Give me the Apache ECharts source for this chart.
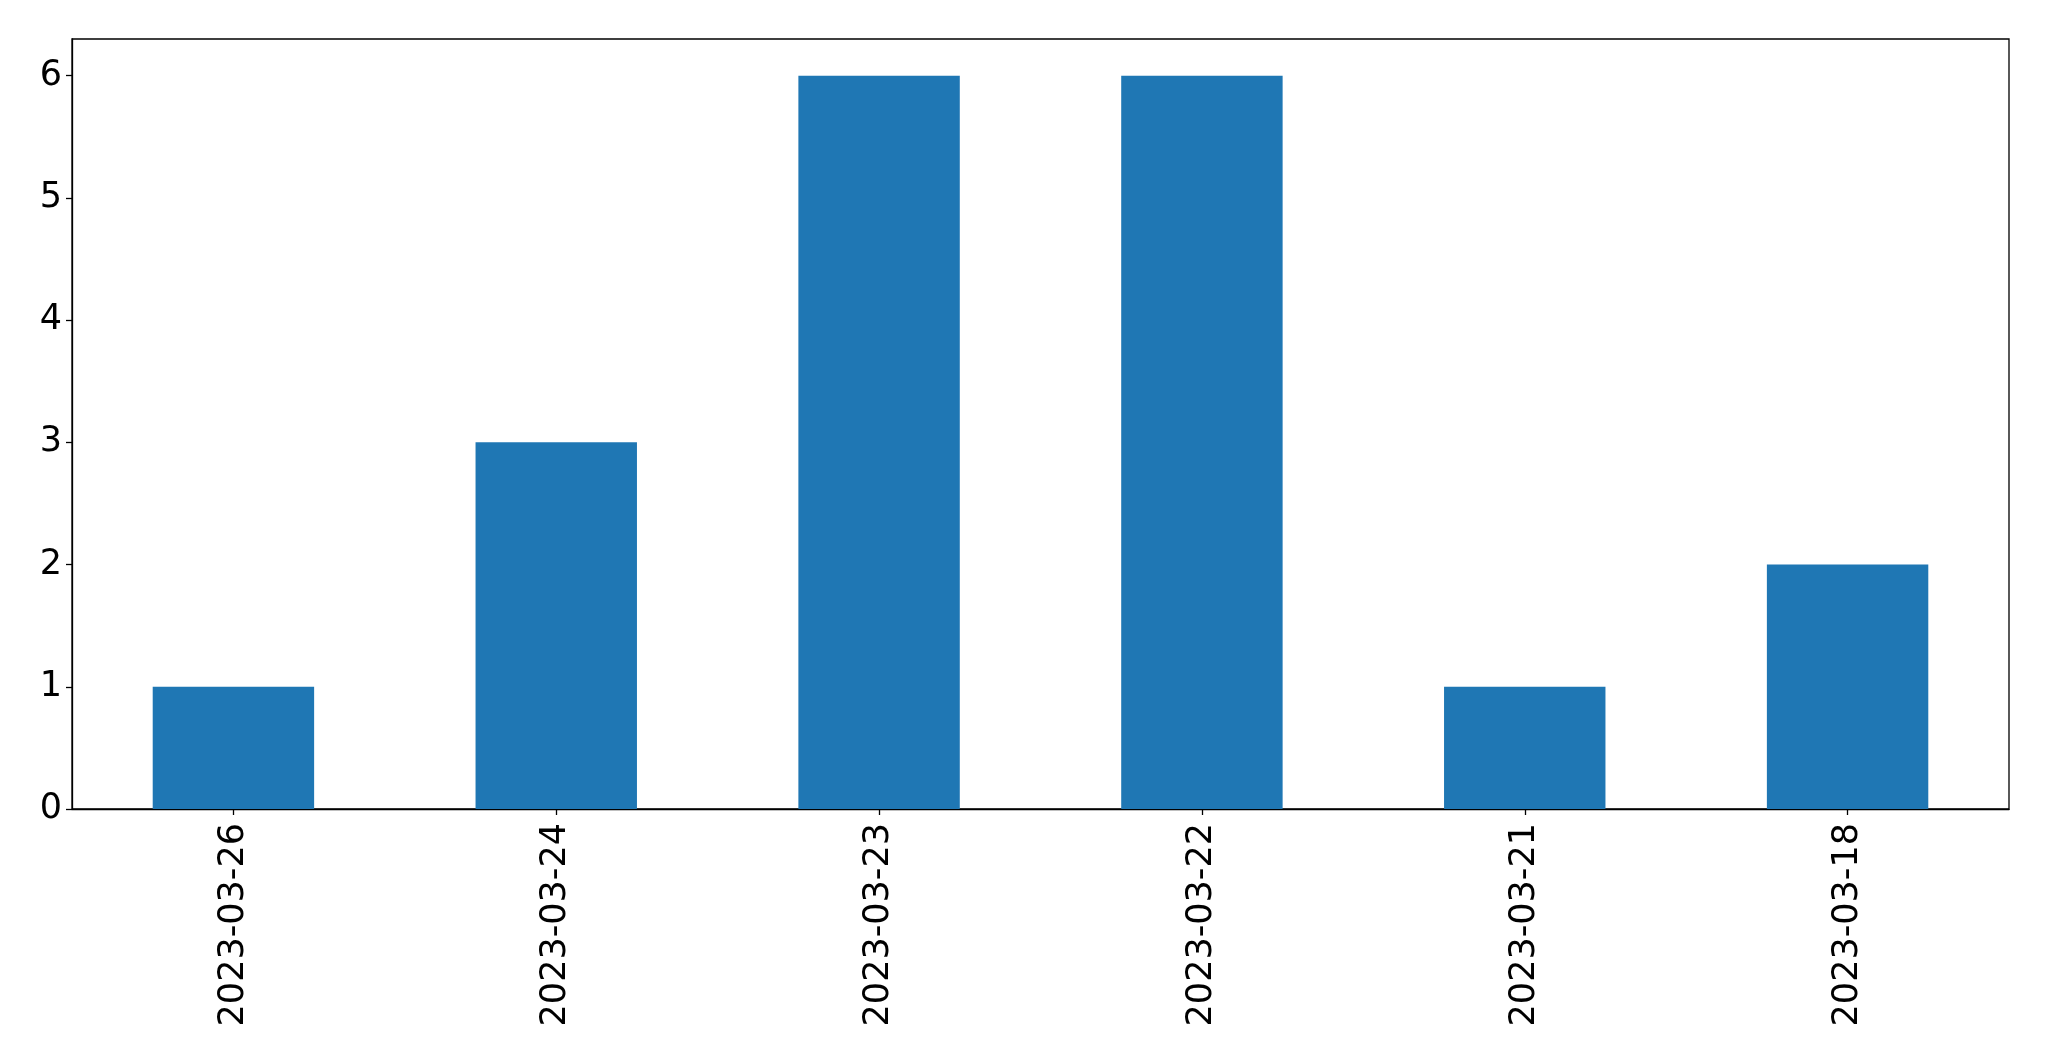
<!DOCTYPE html>
<html>
<head>
<meta charset="utf-8">
<script src="https://cdn.jsdelivr.net/npm/echarts@6/dist/echarts.min.js"></script>
<style>
html,body{margin:0;padding:0;background:#fff;}
#chart{width:2049px;height:1061px;}
</style>
</head>
<body>
<div id="chart"></div>
<script>
const categories = ['2023-03-26','2023-03-24','2023-03-23','2023-03-22','2023-03-21','2023-03-18'];
const values = [1, 3, 6, 6, 1, 2];
const yTicks = [0, 1, 2, 3, 4, 5, 6];

const chart = echarts.init(document.getElementById('chart'), null, {renderer: 'canvas'});
const font = 'DejaVu Sans';
chart.setOption({
  animation: false,
  backgroundColor: '#ffffff',
  grid: {
    left: 72, right: 40, top: 39, bottom: 252,
    show: true, borderColor: '#000', borderWidth: 1.3, backgroundColor: 'transparent'
  },
  xAxis: {
    type: 'category',
    data: categories,
    axisLine: {show: true, lineStyle: {color: '#000', width: 1.3}},
    axisTick: {show: true, alignWithLabel: true, length: 6, lineStyle: {color: '#000', width: 1.3}},
    axisLabel: {rotate: 90, margin: 14, color: '#000', fontSize: 35, fontFamily: font},
    splitLine: {show: false}
  },
  yAxis: {
    type: 'value',
    min: 0, max: 6.3, interval: 1,
    axisLine: {show: true, lineStyle: {color: '#000', width: 1.3}},
    axisTick: {show: true, length: 6, lineStyle: {color: '#000', width: 1.3}, customValues: yTicks},
    axisLabel: {margin: 10, color: '#000', fontSize: 35, fontFamily: font, customValues: yTicks},
    splitLine: {show: false}
  },
  series: [{
    type: 'bar',
    data: values,
    barWidth: '50%',
    itemStyle: {color: '#1f77b4'}
  }]
});
</script>
</body>
</html>
